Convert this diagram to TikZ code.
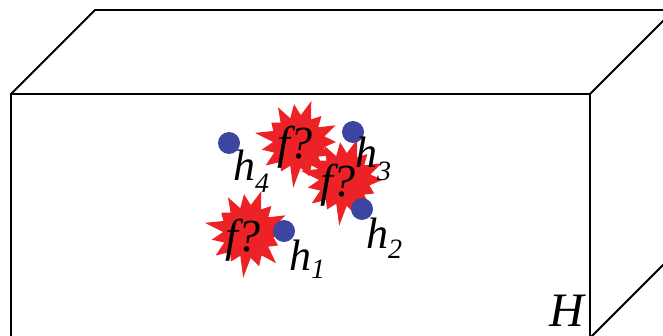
\documentclass[tikz,border=0pt]{standalone}
\usepackage{fontspec}
\setmainfont{Liberation Serif}
\definecolor{burstred}{RGB}{236,34,38}
\definecolor{dotblue}{RGB}{60,70,160}
\tikzset{
  edge/.style={line width=1.8pt, line cap=round, line join=miter},
  hdot/.style={circle, fill=dotblue, inner sep=0pt, minimum width=21pt, minimum height=22pt},
  hlab/.style={anchor=base west, inner sep=0pt, font=\fontsize{44}{44}\selectfont\itshape},
  flab/.style={inner sep=0pt, font=\fontsize{46}{46}\selectfont\itshape},
}
\newcommand\burst[1]{%
  \fill[burstred, shift={(#1)}]
    (0:38) -- (12:26) -- (24:33) -- (36:25) -- (48:42) -- (60:27) -- (72:36) -- (84:26)
    -- (96:46) -- (108:25) -- (120:34) -- (132:27) -- (144:40) -- (156:26) -- (168:37)
    -- (180:25) -- (192:44) -- (204:27) -- (216:33) -- (228:26) -- (240:40) -- (252:25)
    -- (264:38) -- (276:27) -- (288:43) -- (300:26) -- (312:35) -- (324:25) -- (336:41)
    -- (348:27) -- cycle;}
\begin{document}
\begin{tikzpicture}[x=1pt,y=-1pt]
\useasboundingbox (0,0) rectangle (663,336);
% box
\coordinate (ftl) at (11,94);
\coordinate (ftr) at (590,94);
\coordinate (btl) at (95,10);
\draw[edge] (11,340) -- (ftl) -- (ftr) -- (590,340);
\draw[edge] (ftl) -- (btl) -- (675,10);
\draw[edge] (ftr) -- (680,4);
\draw[edge] (590,338) -- (680,248);
% bursts
\coordinate (s1) at (298,142);
\coordinate (s2) at (344,180);
\coordinate (s3) at (248,232);
\burst{s1}
\burst{s2}
\burst{s3}
\node[flab] (f1) at (295,147) {f?};
\node[flab] (f2) at (338,185) {f?};
\node[flab] (f3) at (243,240) {f?};
% dots
\node[hdot] (d4) at (229,143) {};
\node[hdot] (d3) at (353,132) {};
\node[hdot] (d2) at (362,209) {};
\node[hdot] (d1) at (284,231) {};
% labels
\node[hlab] (l4) at (233,181) {h\fontsize{28}{28}\selectfont\raisebox{-12pt}{4}};
\node[hlab] (l3) at (355,168) {h\fontsize{28}{28}\selectfont\raisebox{-13pt}{3}};
\node[hlab] (l2) at (366,249) {h\fontsize{28}{28}\selectfont\raisebox{-10pt}{2}};
\node[hlab] (l1) at (289,271) {h\fontsize{28}{28}\selectfont\raisebox{-8pt}{1}};
\node[anchor=base west, inner sep=0pt, font=\fontsize{48}{48}\selectfont\itshape] (H) at (549,326) {H};
\end{tikzpicture}
\end{document}
